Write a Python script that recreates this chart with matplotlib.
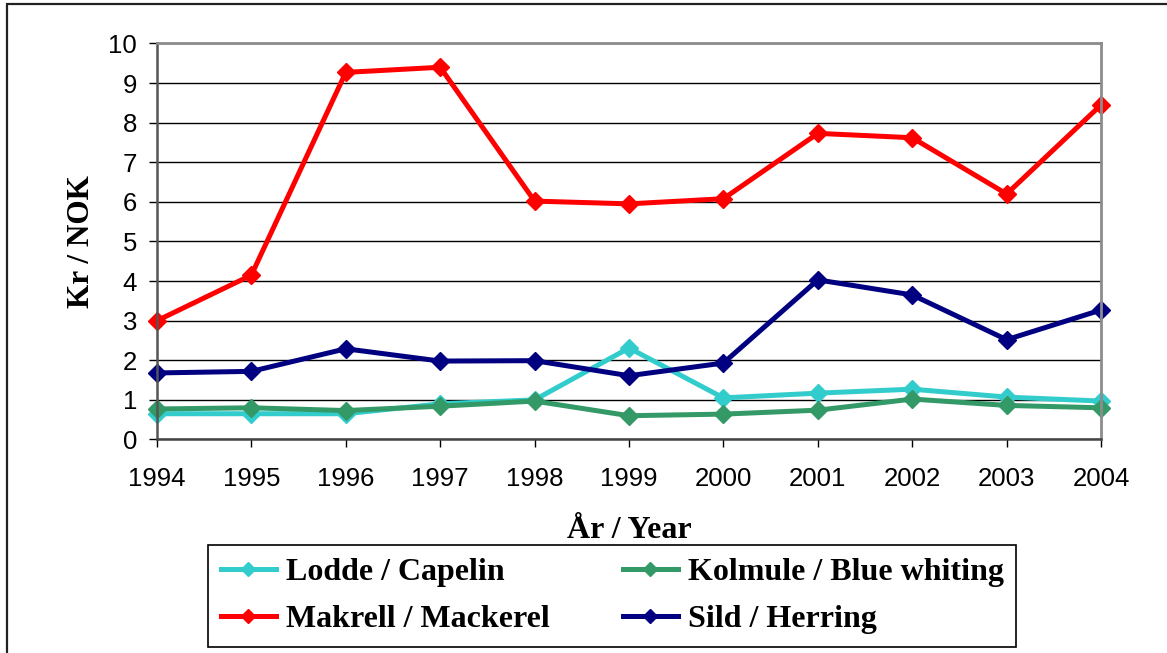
import matplotlib
matplotlib.use("Agg")
import matplotlib.pyplot as plt
from matplotlib.patches import Rectangle

years = [1994, 1995, 1996, 1997, 1998, 1999, 2000, 2001, 2002, 2003, 2004]
lodde = [0.65, 0.65, 0.65, 0.9, 1.0, 2.31, 1.05, 1.17, 1.27, 1.07, 0.97]
kolmule = [0.77, 0.8, 0.73, 0.84, 0.97, 0.6, 0.64, 0.74, 1.02, 0.86, 0.8]
makrell = [3.0, 4.15, 9.27, 9.4, 6.02, 5.95, 6.08, 7.73, 7.62, 6.2, 8.45]
sild = [1.68, 1.72, 2.29, 1.98, 1.99, 1.61, 1.93, 4.03, 3.65, 2.52, 3.27]

SERIES = [
    ("Lodde / Capelin", lodde, "#33CCCC"),
    ("Kolmule / Blue whiting", kolmule, "#339966"),
    ("Makrell / Mackerel", makrell, "#FF0000"),
    ("Sild / Herring", sild, "#000080"),
]

SERIF = "Liberation Serif"
SANS = "Liberation Sans"

fig = plt.figure(figsize=(11.67, 6.53), dpi=100)
ax = fig.add_axes([0.1345, 0.327, 0.809, 0.6064])

handles = {}
for name, vals, color in SERIES:
    (ln,) = ax.plot(years, vals, color=color, lw=3.6, marker="D", ms=9.5,
                    markeredgecolor=color, clip_on=False, label=name)
    handles[name] = ln

ax.set_xlim(1994, 2004)
ax.set_ylim(0, 10)
ax.set_xticks(years)
ax.set_yticks(range(0, 11))
ax.tick_params(axis="both", direction="out", length=6, width=1,
               labelsize=18.5, colors="black")
ax.tick_params(axis="x", pad=13.5)
ax.tick_params(axis="y", pad=8.4)
for lab in ax.get_xticklabels() + ax.get_yticklabels():
    lab.set_fontfamily(SANS)
ax.yaxis.grid(True, color="black", lw=1)
ax.set_axisbelow(True)

ax.spines["top"].set_color("#8c8c8c")
ax.spines["right"].set_color("#8c8c8c")
ax.spines["top"].set_linewidth(2)
ax.spines["right"].set_linewidth(2)
ax.spines["left"].set_color("#555555")
ax.spines["bottom"].set_color("#444444")
ax.spines["left"].set_linewidth(1.8)
ax.spines["bottom"].set_linewidth(1.8)

ax.set_ylabel("Kr / NOK", fontfamily=SERIF, fontweight="bold", fontsize=22.5, labelpad=8.5)
ax.set_xlabel("År / Year", fontfamily=SERIF, fontweight="bold", fontsize=23, labelpad=18)

order = ["Lodde / Capelin", "Makrell / Mackerel", "Kolmule / Blue whiting", "Sild / Herring"]
leg = fig.legend([handles[n] for n in order], order, ncol=2, loc="upper left",
                 bbox_to_anchor=(208 / 1167, 1 - 545 / 653), borderaxespad=0,
                 prop={"family": SERIF, "weight": "bold", "size": 23},
                 frameon=True, fancybox=False, edgecolor="black", framealpha=1,
                 handlelength=1.72, handletextpad=0.31, columnspacing=2.3,
                 labelspacing=0.55, borderpad=0.4, numpoints=1, markerscale=0.7)
leg.get_frame().set_linewidth(1.2)

fig.patches.append(Rectangle((7 / 1167, -0.1), 1.2, 1.1 - 4 / 653,
                             transform=fig.transFigure, fill=False,
                             edgecolor="#222222", lw=1.6))

fig.savefig("out.png", dpi=100)
